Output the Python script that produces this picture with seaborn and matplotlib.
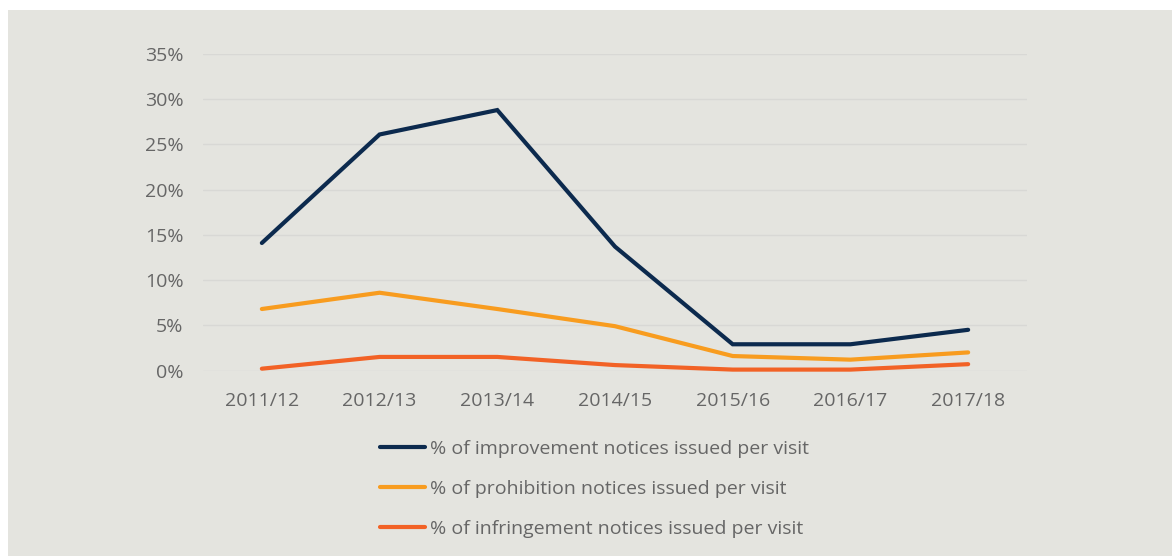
import pandas as pd
import matplotlib.pyplot as plt
import seaborn as sns
from matplotlib.patches import Rectangle
from matplotlib.ticker import FuncFormatter

# data (fractions)
years = ["2011/12", "2012/13", "2013/14", "2014/15", "2015/16", "2016/17", "2017/18"]
improvement = [0.141, 0.261, 0.288, 0.137, 0.029, 0.029, 0.045]
prohibition = [0.068, 0.086, 0.068, 0.049, 0.016, 0.012, 0.020]
infringement = [0.002, 0.015, 0.015, 0.006, 0.001, 0.001, 0.007]

labels = ["% of improvement notices issued per visit",
          "% of prohibition notices issued per visit",
          "% of infringement notices issued per visit"]
colors = ["#0c2a4e", "#f89c1f", "#f26226"]

df = pd.DataFrame({"year": years * 3,
                   "value": improvement + prohibition + infringement,
                   "series": [labels[0]] * 7 + [labels[1]] * 7 + [labels[2]] * 7})
df["x"] = df["year"].map({y: i for i, y in enumerate(years)})

sns.set_style("white")
plt.rcParams["font.family"] = ["Open Sans", "DejaVu Sans"]

bg = "#e4e4df"
txt = "#666666"

fig = plt.figure(figsize=(11.72, 5.58), dpi=100, facecolor="white")
fig.patches.append(Rectangle((8 / 1172, 2 / 558), 1 - 8 / 1172, (548 - 2) / 558,
                             transform=fig.transFigure, facecolor=bg,
                             edgecolor="none", zorder=-1))
ax = fig.add_axes([203 / 1172, (558 - 370.5) / 558, (1027 - 203) / 1172, (370.5 - 54) / 558])
ax.set_facecolor(bg)

sns.lineplot(data=df, x="x", y="value", hue="series", palette=colors,
             linewidth=3, ax=ax, legend=False, clip_on=False,
             solid_capstyle="round", solid_joinstyle="miter")

ax.set_xlim(-0.5, 6.5)
ax.set_ylim(0, 0.35)
ax.set_yticks([i * 0.05 for i in range(8)])
ax.yaxis.set_major_formatter(FuncFormatter(lambda v, p: f"{v * 100:.0f}%"))
ax.set_xticks(range(7))
ax.set_xticklabels(years)
ax.grid(axis="y", color="#d8d8d5", linewidth=1)
ax.set_axisbelow(True)
for s in ax.spines.values():
    s.set_visible(False)
ax.tick_params(axis="both", length=0, labelsize=14, labelcolor=txt)
ax.tick_params(axis="y", pad=14)
ax.tick_params(axis="x", pad=15.5)
ax.set_xlabel("")
ax.set_ylabel("")

handles = [plt.Line2D([], [], color=c, linewidth=3, solid_capstyle="round") for c in colors]
leg = fig.legend(handles, labels, loc="upper left",
                 bbox_to_anchor=(380 / 1172, (558 - 439.5) / 558),
                 frameon=False, fontsize=14, handlelength=2.3, handletextpad=0.25,
                 labelspacing=1.14, borderpad=0, borderaxespad=0)
for t in leg.get_texts():
    t.set_color(txt)

fig.savefig("out.png", dpi=100, facecolor="white")
